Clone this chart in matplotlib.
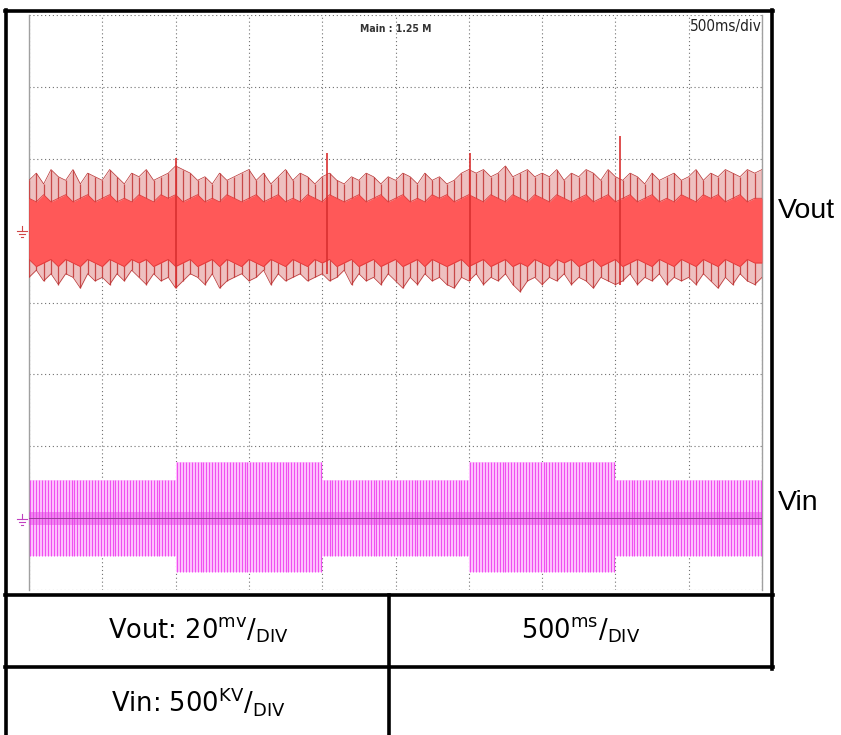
# scope capture: Vout ripple and Vin bursts, with settings table below

import numpy as np
import matplotlib.pyplot as plt

plt.rcParams["font.family"] = ["Liberation Sans", "DejaVu Sans"]
plt.rcParams["mathtext.fontset"] = "dejavusans"

# Vout ripple, mV (20 mV/div) - peak envelope
vout_hi = [14, 16, 13, 17, 15, 14, 17, 13, 16, 15,
           14, 17, 15, 13, 16, 15, 17, 14, 15, 16,
           18, 17, 16, 14, 15, 13, 16, 14, 15, 16,
           17, 14, 16, 13, 15, 17, 14, 16, 15, 13,
           15, 16, 14, 13, 15, 14, 16, 15, 13, 15,
           14, 16, 15, 13, 16, 14, 15, 13, 14, 16,
           17, 16, 17, 15, 16, 18, 15, 16, 17, 15,
           16, 15, 17, 14, 16, 15, 17, 16, 14, 17,
           15, 14, 16, 15, 13, 16, 14, 15, 16, 14,
           15, 17, 14, 16, 15, 17, 16, 15, 17, 16, 17]
vout_lo = [-13, -11, -14, -12, -15, -12, -13, -16, -12, -14,
           -13, -15, -12, -14, -11, -13, -15, -12, -14, -13,
           -16, -14, -12, -13, -15, -12, -16, -14, -13, -12,
           -14, -13, -11, -15, -12, -14, -13, -12, -14, -13,
           -12, -14, -13, -11, -15, -12, -14, -13, -15, -12,
           -14, -16, -13, -15, -12, -14, -13, -15, -16, -13,
           -14, -12, -15, -13, -14, -12, -15, -17, -14, -13,
           -15, -13, -14, -12, -15, -13, -14, -16, -13, -14,
           -15, -14, -12, -15, -13, -14, -12, -15, -13, -14,
           -13, -15, -12, -14, -16, -13, -15, -12, -14, -15, -13]
core_hi = [9, 8, 10, 8, 9, 10, 8, 9, 10, 8,
           9, 10, 8, 9, 8, 10, 9, 8, 10, 9,
           10, 8, 9, 10, 8, 9, 8, 10, 9, 8,
           9, 10, 8, 9, 10, 8, 9, 8, 10, 9,
           8, 10, 9, 8, 9, 10, 8, 9, 10, 8,
           9, 10, 8, 9, 8, 10, 9, 10, 8, 9,
           10, 9, 8, 10, 9, 8, 10, 9, 8, 10,
           9, 8, 10, 9, 8, 9, 10, 8, 9, 10,
           8, 9, 10, 8, 9, 10, 8, 9, 8, 10,
           9, 8, 10, 9, 10, 8, 9, 10, 8, 9, 9]
core_lo = [-8, -10, -9, -8, -10, -8, -9, -10, -8, -9,
           -10, -8, -9, -10, -8, -9, -8, -10, -9, -8,
           -10, -9, -8, -10, -9, -8, -10, -8, -9, -10,
           -8, -9, -10, -8, -9, -10, -8, -9, -10, -8,
           -9, -8, -10, -9, -8, -10, -9, -8, -10, -9,
           -8, -10, -9, -8, -10, -8, -9, -10, -9, -8,
           -10, -9, -8, -10, -9, -8, -10, -9, -10, -8,
           -9, -10, -8, -9, -8, -10, -9, -8, -10, -9,
           -8, -10, -9, -8, -9, -10, -8, -9, -10, -8,
           -9, -10, -8, -9, -10, -8, -9, -10, -8, -9, -9]

# single spikes on Vout
spike_t = [1000, 2030, 3010, 4030]
spike_top = [20.3, 21.7, 21.7, 26.4]
spike_bot = [-16, -12, -14, -15]

# Vin bursts, kV (500 kV/div)
seg_start = [0, 1000, 2000, 3000, 4000]
seg_end = [1000, 2000, 3000, 4000, 5000]
seg_top = [265, 388, 265, 388, 265]
seg_bot = [-265, -375, -265, -375, -265]
pulse_period = 20

# sample times, ms (500 ms/div, 10 div)
t_env = np.linspace(0, 5000, len(vout_hi))
t_core = np.linspace(0, 5000, len(core_hi))

fig = plt.figure(figsize=(8.41, 7.35), dpi=100)

# scope screen
ax = fig.add_axes([29 / 841, 1 - 590 / 735, 733 / 841, 575 / 735])
ax.set_xlim(0, 5000)
ax.set_ylim(-4, 4)
ax.set_xticks(np.arange(0, 5001, 500))
ax.set_yticks(np.arange(-4, 5, 1))
ax.tick_params(length=0, labelbottom=False, labelleft=False)
ax.grid(True, color="#707070", linestyle=(0, (1, 2.5)), linewidth=0.8)
for s in ["top", "bottom"]:
    ax.spines[s].set_visible(False)
for s in ["left", "right"]:
    ax.spines[s].set_color("#a0a0a0")
    ax.spines[s].set_linewidth(1)

# overlay in pixel coordinates for the table and labels (on top, transparent)
ov = fig.add_axes([0, 0, 1, 1])
ov.set_xlim(0, 841)
ov.set_ylim(735, 0)
ov.axis("off")

# Vout (ground at +1 div)
hi = np.array(vout_hi) / 20 + 1
lo = np.array(vout_lo) / 20 + 1
ax.fill_between(t_env, lo, hi, color="#eec0c0", linewidth=0, zorder=2)
ax.vlines(t_env, lo, hi, color="#c84848", linewidth=0.9, zorder=3)
ax.plot(t_env, hi, color="#b83030", linewidth=0.5, zorder=3)
ax.plot(t_env, lo, color="#b83030", linewidth=0.5, zorder=3)
ax.fill_between(t_core, np.array(core_lo) / 20 + 1, np.array(core_hi) / 20 + 1,
                color="#ff5858", linewidth=0, zorder=4)
ax.plot(t_core, np.array(core_hi) / 20 + 1, color="#e03a3a", linewidth=0.6, zorder=4)
ax.plot(t_core, np.array(core_lo) / 20 + 1, color="#e03a3a", linewidth=0.6, zorder=4)
ax.vlines(spike_t, np.array(spike_bot) / 20 + 1, np.array(spike_top) / 20 + 1,
          color="#d83030", linewidth=1.2, zorder=5)

# Vin (ground at -3 div)
for a, b, top, bot in zip(seg_start, seg_end, seg_top, seg_bot):
    ax.fill_between([a, b], bot / 500 - 3, top / 500 - 3, color="#ffd0ff",
                    linewidth=0, zorder=2)
    tp = np.arange(a, b, pulse_period) + pulse_period / 2
    ax.vlines(tp, bot / 500 - 3, top / 500 - 3, color="#f050f0",
              linewidth=0.9, zorder=3)
ax.fill_between([0, 5000], -3 - 0.09, -3 + 0.09, color="#e040e0", alpha=0.45,
                linewidth=0, zorder=4)
ax.axhline(-3, color="#9a3a9a", linewidth=0.7, zorder=5)

# screen annotations
ax.text(0.5, 0.985, "Main : 1.25 M", transform=ax.transAxes, ha="center", va="top",
        fontsize=7.5, fontweight="bold", color="#333333", family="DejaVu Sans",
        fontstretch="condensed")
ov.text(726, 26, "500ms/div", ha="center", va="center", fontsize=11,
        color="#222222", family="DejaVu Sans", fontstretch="condensed")

# ground markers
for yg, col in [(231, "#d04848"), (519, "#c040c0")]:
    ov.plot([22, 22], [yg - 5, yg], color=col, linewidth=0.8)
    ov.plot([17, 27], [yg, yg], color=col, linewidth=0.8)
    ov.plot([19, 25], [yg + 3, yg + 3], color=col, linewidth=0.8)
    ov.plot([21, 23], [yg + 6, yg + 6], color=col, linewidth=0.8)

# trace labels
ov.text(778, 211, "Vout", ha="left", va="center", fontsize=20.5, color="black")
ov.text(778, 503, "Vin", ha="left", va="center", fontsize=20.5, color="black")

# table borders
lw = 2.6
ov.plot([6.5, 6.5], [10, 735], color="black", linewidth=lw)
ov.plot([5, 773.5], [11, 11], color="black", linewidth=lw)
ov.plot([772, 772], [10, 668.5], color="black", linewidth=lw)
ov.plot([5, 773.5], [595, 595], color="black", linewidth=lw)
ov.plot([5, 773.5], [667, 667], color="black", linewidth=lw)
ov.plot([389.5, 389.5], [595, 735], color="black", linewidth=lw)

# table texts
cell_font = dict(ha="center", va="center", fontsize=18.5, family="DejaVu Sans")
ov.text(198, 630, r"Vout: 20$^{\mathrm{mv}}$/$_{\mathrm{DIV}}$", **cell_font)
ov.text(581, 630, r"500$^{\mathrm{ms}}$/$_{\mathrm{DIV}}$", **cell_font)
ov.text(198, 701, r"Vin: 500$^{\mathrm{KV}}$/$_{\mathrm{DIV}}$", **cell_font)

fig.savefig("out.png", dpi=100)
